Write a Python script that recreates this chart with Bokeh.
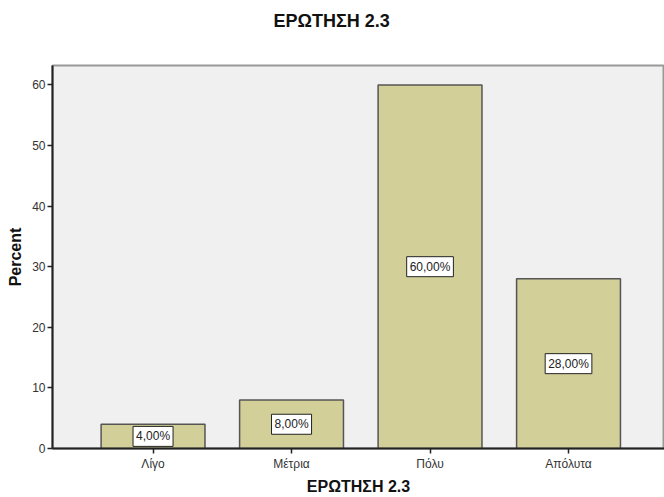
from bokeh.plotting import figure
from bokeh.models import ColumnDataSource, FixedTicker, Range1d, Title
from bokeh.core.properties import value
from bokeh.embed import file_html
from bokeh.resources import INLINE

categories = ["Λίγο", "Μέτρια", "Πόλυ", "Απόλυτα"]
percent = [4.0, 8.0, 60.0, 28.0]
value_labels = ["4,00%", "8,00%", "60,00%", "28,00%"]
y_ticks = [0, 10, 20, 30, 40, 50, 60]
title_text = "ΕΡΩΤΗΣΗ 2.3"
x_title = "ΕΡΩΤΗΣΗ 2.3"
y_title = "Percent"

xs = list(range(len(categories)))
source = ColumnDataSource(dict(
    x=xs,
    top=percent,
    mid=[v / 2 for v in percent],
    lab=value_labels,
))

FONT = "Liberation Sans"

p = figure(width=664, height=497, output_backend="svg", toolbar_location=None,
           x_range=Range1d(-0.726, 3.693), y_range=Range1d(0, 63.2),
           min_border_left=52, min_border_right=0, min_border_top=65, min_border_bottom=48)

p.background_fill_color = "#f0f0f0"
p.border_fill_color = "white"
p.outline_line_color = "#999999"
p.outline_line_width = 2
p.xgrid.visible = False
p.ygrid.visible = False

p.vbar(x="x", top="top", width=0.75, source=source,
       fill_color="#d3cf98", line_color="#555555", line_width=1.5)

p.text(x="x", y="mid", text="lab", source=source,
       text_align="center", text_baseline="middle",
       text_font=value(FONT), text_font_size="12px", text_color="#222222",
       background_fill_color="white", border_line_color="#222222",
       border_line_width=1, padding=3)

# axes
p.xaxis.ticker = FixedTicker(ticks=xs)
p.xaxis.major_label_overrides = {i: c for i, c in enumerate(categories)}
p.xaxis.axis_label = x_title
p.yaxis.ticker = FixedTicker(ticks=y_ticks)
p.yaxis.axis_label = y_title

for ax in (p.xaxis, p.yaxis):
    ax.axis_line_color = "#222222"
    ax.axis_line_width = 2
    ax.major_tick_line_color = "#222222"
    ax.major_tick_line_width = 1.5
    ax.major_tick_out = 5
    ax.major_tick_in = 0
    ax.minor_tick_line_color = None
    ax.major_label_text_font = FONT
    ax.major_label_text_font_size = "12px"
    ax.major_label_text_color = "#333333"
    ax.axis_label_text_font = FONT
    ax.axis_label_text_font_size = "16px"
    ax.axis_label_text_font_style = "bold"
    ax.axis_label_text_color = "#111111"

p.yaxis.major_label_standoff = 2
p.yaxis.axis_label_standoff = 5
p.xaxis.major_label_standoff = 3
p.xaxis.axis_label_standoff = 4

# spacer between the frame and the chart title, then the title itself
p.add_layout(Title(text=" ", text_font_size="30px", standoff=0), "above")
p.add_layout(Title(text=title_text, align="left", offset=221, text_font=FONT,
                   text_font_size="18px", text_font_style="bold",
                   text_color="#111111", standoff=0), "above")

open("out.html", "w").write(file_html(p, INLINE))
